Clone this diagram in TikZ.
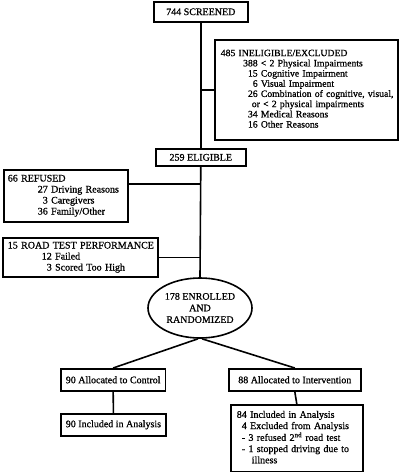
\documentclass[tikz,border=0pt]{standalone}
\usepackage{fontspec}
\setmainfont{Liberation Serif}[RawFeature={embolden=0.8}]
\usetikzlibrary{shapes.geometric}
\newcommand\boxtext[1]{\begin{tabular}{@{}l@{}}#1\end{tabular}}
\tikzset{
  flowbox/.style={draw, line width=1.6pt, anchor=north west, align=left,
    inner xsep=5pt, inner ysep=2pt, font=\fontsize{10}{11}\selectfont},
  midbox/.style={flowbox, align=center},
}
\begin{document}
\begin{tikzpicture}[x=1pt,y=-1pt]
  \useasboundingbox (0,0) rectangle (400,472);
  \node[midbox, minimum width=94pt, minimum height=20pt] (screened) at (153,1) {744 SCREENED};
  \node[flowbox, inner xsep=6pt, text width=171pt, minimum height=100pt,
    font=\fontsize{9.7}{10.2}\selectfont] (excluded) at (214,39)
    {\boxtext{485 INELIGIBLE/EXCLUDED\\
     \hspace*{2.3em}388 < 2 Physical Impairments\\
     \hspace*{2.3em}\phantom{3}15 Cognitive Impairment\\
     \hspace*{2.3em}\phantom{38}6 Visual Impairment\\
     \hspace*{2.3em}\phantom{3}26 Combination of cognitive, visual,\\
     \hspace*{3.2em}or < 2 physical impairments\\
     \hspace*{2.3em}\phantom{3}34 Medical Reasons\\
     \hspace*{2.3em}\phantom{3}16 Other Reasons}};
  \node[midbox, minimum width=90pt, minimum height=17pt] (eligible) at (155,148) {259 ELIGIBLE};
  \node[flowbox, inner xsep=4pt, text width=116pt, minimum height=52pt] (refused) at (3,169)
    {\boxtext{66 REFUSED\\
     \hspace*{3em}27 Driving Reasons\\
     \hspace*{3em}\phantom{2}3 Caregivers\\
     \hspace*{3em}36 Family/Other}};
  \node[flowbox, text width=145pt, minimum height=39pt] (road) at (2,237)
    {\boxtext{15 ROAD TEST PERFORMANCE\\
     \hspace*{3.4em}12 Failed\\
     \hspace*{3.4em}\phantom{1}3 Scored Too High}};
  \node[draw, ellipse, line width=1.6pt, minimum width=104pt, minimum height=60pt, inner sep=0pt,
    align=center, font=\fontsize{10}{11.6}\selectfont] (rand) at (200,308)
    {178 ENROLLED\\AND\\RANDOMIZED};
  \node[midbox, minimum width=103pt, minimum height=22pt] (control) at (60,368) {90 Allocated to Control};
  \node[midbox, minimum width=103pt, minimum height=22pt] (ctrlan) at (60,413) {90 Included in Analysis};
  \node[midbox, minimum width=132pt, minimum height=22pt] (interv) at (228,368) {88 Allocated to Intervention};
  \node[flowbox, inner xsep=6pt, text width=120pt, minimum height=67pt,
    font=\fontsize{10}{11.2}\selectfont] (intan) at (230,404)
    {\boxtext{84 Included in Analysis\\
     \phantom{8}4 Excluded from Analysis\\
     \phantom{8}- 3 refused 2\textsuperscript{nd} road test\\
     \phantom{8}- 1 stopped driving due to\\
     \hspace*{1.5em}illness}};
  \begin{scope}[line width=1.6pt]
    \draw (screened.south) to (eligible.north);
    \draw (excluded.west) to (excluded.west -| screened.south);
    \draw (eligible.south) to (rand.north);
    \draw ([yshift=12pt]refused.east) to ([yshift=12pt]refused.east -| eligible.south);
    \draw (road.east) to (road.east -| eligible.south);
    \draw ([xshift=-2pt]rand.south) to (control.north);
    \draw ([xshift=2pt]rand.south) to (interv.north);
    \draw (control.south) to (ctrlan.north);
    \draw (interv.south) to (intan.north);
  \end{scope}
\end{tikzpicture}
\end{document}
